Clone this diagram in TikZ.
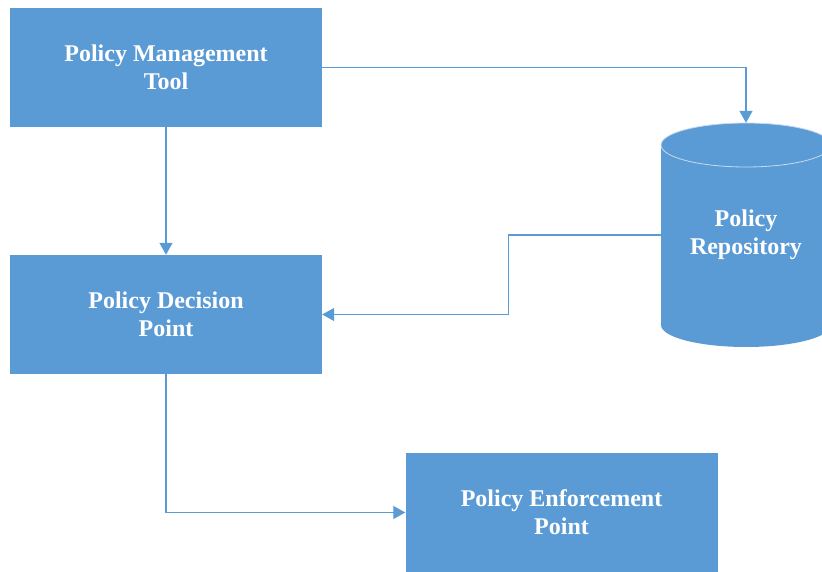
\documentclass[tikz,border=0pt]{standalone}
\usepackage{fontspec}
\setmainfont{Liberation Serif}
\usepackage{tikz}
\usetikzlibrary{arrows.meta}

\begin{document}
\begin{tikzpicture}
	[x=1pt,y=-1pt,line cap=round,
	%Styles
	block/.style={rectangle,fill=boxblue,minimum width=312pt,minimum height=119pt,
		text=white,align=center,font=\fontsize{24}{28}\selectfont\bfseries},
	flow/.style={draw=lineblue,line width=1.2pt,-{Triangle[length=12pt,width=13pt]}}
	]
	
	%Colors
	\definecolor{boxblue}{HTML}{5B9BD5}	%boxes and drum
	\definecolor{lineblue}{HTML}{5B9BD5}	%connectors
	\definecolor{rimblue}{HTML}{C5DAF0}	%top rim of the drum
	
	\useasboundingbox (0,0) rectangle (822,572);
	
	%The graphic
	\node[block] (pmt) at (166,67.5) {Policy Management\\Tool};
	\node[block] (pdp) at (166,314.5) {Policy Decision\\Point};
	\node[block] (pep) at (561.5,512.5) {Policy Enforcement\\Point};
	
	% repository drum
	\fill[boxblue] (661,145) rectangle (831,325);
	\fill[boxblue] (746,325) ellipse[x radius=85,y radius=22];
	\filldraw[fill=boxblue,draw=rimblue,line width=.8pt] (746,145) ellipse[x radius=85,y radius=22];
	\node[minimum width=170pt,minimum height=224pt,inner sep=0pt,text=white,align=center,
		font=\fontsize{24}{28}\selectfont\bfseries] (repo) at (746,235) {Policy\\Repository};
	
	\draw[flow] (pmt.east) -- (pmt.east -| repo.north) -- (repo.north);
	\draw[flow] (pmt.south) -- (pdp.north);
	\draw[flow] (repo.west) -- ++(-152,0) |- (pdp.east);
	\draw[flow] (pdp.south) |- (pep.west);
\end{tikzpicture}
\end{document}
